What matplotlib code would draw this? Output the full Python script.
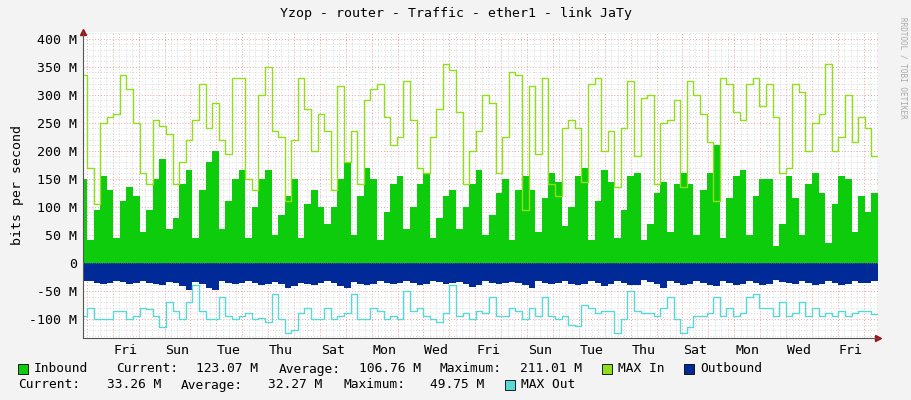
import numpy as np
import matplotlib.pyplot as plt
from matplotlib.patches import Rectangle

# values in M bit/s, 6-hour steps starting 6h before the first day gridline
inbound = [150,
    40, 95, 155, 130,   45, 110, 135, 120,   55, 95, 150, 185,   60, 80, 140, 165,
    45, 130, 180, 200,  60, 110, 150, 165,   45, 100, 150, 165,  50, 85, 120, 150,
    45, 105, 130, 100,  70, 100, 150, 180,   50, 120, 170, 150,  40, 90, 140, 155,
    60, 100, 140, 160,  45, 80, 120, 130,    60, 100, 140, 165,  50, 85, 125, 150,
    40, 130, 155, 130,  55, 115, 160, 145,   65, 100, 155, 170,  40, 110, 165, 145,
    45, 95, 155, 160,   40, 70, 125, 145,    55, 140, 160, 140,  50, 130, 160, 210,
    45, 115, 155, 165,  50, 120, 150, 150,   30, 70, 155, 115,  50, 140, 160, 125,
    35, 105, 155, 150,  55, 120, 90, 125]
outbound = [-32,
    -33, -35, -38, -36,  -32, -34, -37, -36,  -33, -35, -38, -40,  -34, -36, -42, -48,
    -34, -38, -45, -48,  -33, -35, -38, -36,  -32, -36, -40, -38,  -34, -37, -45, -42,
    -36, -38, -40, -35,  -33, -36, -42, -45,  -34, -38, -40, -38,  -32, -35, -38, -36,
    -33, -36, -40, -38,  -32, -34, -37, -36,  -34, -38, -43, -40,  -32, -35, -37, -36,
    -34, -36, -40, -45,  -32, -35, -38, -36,  -33, -37, -40, -38,  -33, -36, -42, -38,
    -32, -35, -40, -40,  -30, -34, -38, -45,  -32, -36, -40, -38,  -33, -35, -40, -42,
    -32, -36, -40, -38,  -33, -35, -40, -37,  -31, -34, -36, -38,  -33, -36, -40, -38,
    -32, -36, -40, -37,  -33, -35, -36, -33]
max_in = [335,
    170, 105, 250, 260,  265, 335, 310, 250,  160, 140, 255, 245,  230, 140, 180, 220,
    255, 320, 240, 285,  220, 195, 330, 330,  150, 130, 300, 350,  235, 225, 110, 220,
    330, 275, 200, 265,  235, 130, 315, 180,  235, 140, 290, 310,  320, 260, 210, 225,
    325, 255, 170, 160,  225, 275, 355, 345,  270, 140, 200, 235,  300, 285, 160, 225,
    340, 335, 95, 315,   195, 330, 140, 120,  240, 255, 240, 145,  320, 330, 200, 235,
    135, 240, 325, 190,  295, 300, 140, 250,  255, 290, 135, 325,  300, 265, 215, 110,
    330, 320, 270, 255,  320, 330, 280, 320,  260, 160, 170, 320,  305, 200, 250, 265,
    355, 200, 225, 300,  215, 260, 240, 190]
max_out = [-95,
    -80, -100, -100, -100,  -85, -85, -100, -95,  -80, -82, -95, -115,  -70, -85, -100, -70,
    -40, -85, -100, -100,   -60, -95, -100, -95,  -90, -100, -98, -105,  -55, -100, -125, -120,
    -90, -80, -100, -100,   -80, -100, -95, -90,  -55, -100, -100, -80,  -85, -100, -95, -100,
    -50, -85, -80, -95,     -100, -105, -90, -40, -95, -90, -100, -85,   -90, -60, -95, -95,
    -80, -85, -100, -80,    -95, -60, -95, -100,  -95, -110, -112, -75,  -80, -90, -85, -85,
    -125, -100, -50, -85,   -90, -90, -95, -80,   -60, -100, -125, -115, -95, -95, -90, -60,
    -95, -80, -95, -90,     -60, -55, -80, -80,   -95, -70, -95, -90,   -70, -95, -80, -95,
    -90, -95, -85, -95,     -90, -85, -85, -92]

day_labels = ["Fri", "Sun", "Tue", "Thu", "Sat", "Mon", "Wed", "Fri",
              "Sun", "Tue", "Thu", "Sat", "Mon", "Wed", "Fri"]

x0, x1 = (83 - 86.8) / 25.9, (878 - 86.8) / 25.9
x = np.linspace(-0.25, x1, len(inbound) + 1)
def ext(v):
    return list(v) + [v[-1]]

fig = plt.figure(figsize=(9.11, 4.0), dpi=100, facecolor="#f3f3f3")
ax = fig.add_axes([83 / 911, 62 / 400, 795 / 911, 306 / 400])
ax.set_facecolor("white")

ax.fill_between(x, 0, ext(inbound), step="post", color="#0ccc0c", lw=0)
ax.fill_between(x, 0, ext(outbound), step="post", color="#002a97", lw=0)
ax.step(x, ext(max_in), where="post", color="#8fe01a", lw=1)
ax.step(x, ext(max_out), where="post", color="#5ad8d8", lw=1)

ax.set_xlim(x0, x1)
ax.set_ylim(-134, 412)

# grid
for d in np.arange(0, 31, 0.25):
    if d > x1:
        break
    col = "#f0a0a0" if d % 1 == 0 else "#d8d8d8"
    ax.axvline(d, color=col, lw=0.7, ls=(0, (1, 2)), zorder=0.5)
for yv in range(-130, 411, 10):
    col = "#f0a0a0" if yv % 50 == 0 else "#d8d8d8"
    ax.axhline(yv, color=col, lw=0.7, ls=(0, (1, 2)), zorder=0.5)
ax.axhline(0, color="#888888", lw=0.5, ls=(0, (1, 2)), zorder=3)

ax.set_xticks([1.5 + 2 * i for i in range(len(day_labels))])
ax.set_xticklabels(day_labels, fontsize=9.5, family="DejaVu Sans Mono")
ax.set_yticks(range(-100, 401, 50))
ax.set_yticklabels([f"{v} M" if v else "0" for v in range(-100, 401, 50)],
                   fontsize=9.5, family="DejaVu Sans Mono")
ax.tick_params(length=0, pad=4)
ax.set_ylabel("bits per second", fontsize=9.5, family="DejaVu Sans Mono")
for s in ["top", "right"]:
    ax.spines[s].set_visible(False)
for s in ["left", "bottom"]:
    ax.spines[s].set_color("#555555")
ax.plot(0, 1, "^", color="#a01010", ms=4, transform=ax.transAxes, clip_on=False)
ax.plot(1, 0, ">", color="#a01010", ms=4, transform=ax.transAxes, clip_on=False)

fig.text(0.5, 1 - 13 / 400, "Yzop - router - Traffic - ether1 - link JaTy",
         ha="center", va="center", fontsize=9.5, family="DejaVu Sans Mono")
fig.text(903 / 911, 0.83, "RRDTOOL / TOBI OETIKER", rotation=270, ha="center",
         va="center", fontsize=5.5, color="#aaaaaa", family="DejaVu Sans Mono")

def square(px, py, col):
    fig.patches.append(Rectangle((px / 911, 1 - (py + 5) / 400), 10 / 911, 10 / 400,
                                 transform=fig.transFigure, facecolor=col,
                                 edgecolor="black", lw=0.6))

def label(px, py, s):
    fig.text(px / 911, 1 - py / 400, s, ha="left", va="center", fontsize=9.3,
             family="DejaVu Sans Mono")

row1 = [(34, "Inbound"), (116, "Current:"), (196, "123.07 M"), (279, "Average:"),
        (359, "106.76 M"), (440, "Maximum:"), (520, "211.01 M"),
        (618, "MAX In"), (700, "Outbound")]
row2 = [(18, "Current:"), (107, "33.26 M"), (181, "Average:"), (268, "32.27 M"),
        (343, "Maximum:"), (430, "49.75 M"), (521, "MAX Out")]
square(18, 369, "#0ccc0c")
square(602, 369, "#8fe01a")
square(684, 369, "#002a97")
square(505, 385, "#5ad8d8")
for px, s in row1:
    label(px, 369, s)
for px, s in row2:
    label(px, 385, s)

fig.savefig("out.png", dpi=100, facecolor=fig.get_facecolor())
